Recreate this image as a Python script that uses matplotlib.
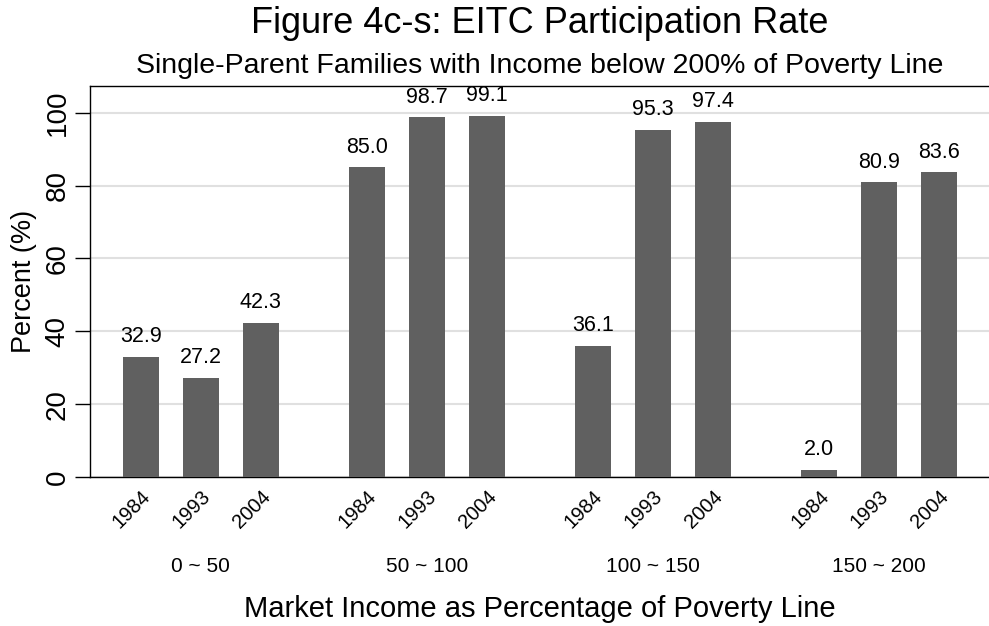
import numpy as np
import matplotlib.pyplot as plt

plt.rcParams['font.family'] = ['Liberation Sans', 'DejaVu Sans']

# data
groups = ['0 ~ 50', '50 ~ 100', '100 ~ 150', '150 ~ 200']
years = ['1984', '1993', '2004']
rate_0_50 = [32.9, 27.2, 42.3]
rate_50_100 = [85.0, 98.7, 99.1]
rate_100_150 = [36.1, 95.3, 97.4]
rate_150_200 = [2.0, 80.9, 83.6]
rates = [rate_0_50, rate_50_100, rate_100_150, rate_150_200]

group_stride = 3.78
bar_w = 0.6

fig = plt.figure(figsize=(9.89, 6.26), dpi=100)
ax = fig.add_axes([0.091, 0.238, 0.909, 0.625])

xpos = []
for g, vals in enumerate(rates):
    x = g * group_stride + np.arange(len(vals))
    xpos.extend(x)
    bars = ax.bar(x, vals, bar_w, color='#606060', zorder=3)
    for rect, v in zip(bars, vals):
        ax.annotate(f'{v:.1f}', xy=(rect.get_x() + rect.get_width() / 2, v),
                    xytext=(0, 7), textcoords='offset points',
                    ha='center', va='bottom', fontsize=15.5)
    # group label under the year labels
    ax.text(g * group_stride + 1, -0.2432, groups[g], transform=ax.get_xaxis_transform(),
            ha='center', va='baseline', fontsize=15)

ax.set_xticks(xpos)
ax.set_xticklabels(years * len(groups), rotation=45, ha='right', va='top',
                   rotation_mode='anchor', fontsize=14.5)
ax.tick_params(axis='x', length=0, pad=7)

ax.set_xlim(-0.853, 14.18)
ax.set_ylim(0, 107.4)
ax.set_yticks(range(0, 101, 20))
ax.tick_params(axis='y', length=11, width=1, labelsize=20, pad=3)
for lab in ax.get_yticklabels():
    lab.set_rotation(90)
    lab.set_va('center')
ax.yaxis.grid(True, color='#e0e0e0', linewidth=1.5, zorder=0)
ax.set_axisbelow(True)
ax.spines['right'].set_visible(False)
for s in ['left', 'top', 'bottom']:
    ax.spines[s].set_linewidth(1.0)

ax.set_ylabel('Percent (%)', fontsize=19.5, va='center')
ax.yaxis.set_label_coords((24 - 90) / 899, 0.5)

fig.text(0.5455, 0.0144, 'Market Income as Percentage of Poverty Line', ha='center', va='baseline', fontsize=21)
fig.text(0.5455, 0.947, 'Figure 4c-s: EITC Participation Rate', ha='center', va='baseline', fontsize=26)
fig.text(0.5455, 0.883, 'Single-Parent Families with Income below 200% of Poverty Line', ha='center', va='baseline', fontsize=20.5)

plt.savefig('out.png', dpi=100)
